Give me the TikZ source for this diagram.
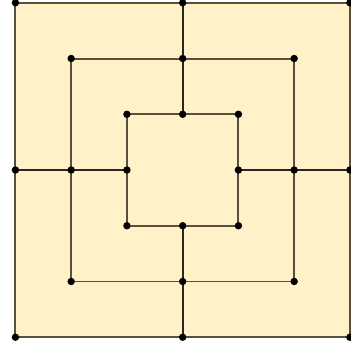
\documentclass[tikz,border=0pt]{standalone}
\definecolor{boardbg}{HTML}{FFF1C8}
\definecolor{squarec}{HTML}{5A4F3A}
\definecolor{crossc}{HTML}{2B2620}
\tikzset{
  board/.style={draw=squarec, line width=1pt},
  cross/.style={draw=crossc, line width=1pt},
  pt/.style={circle, fill=black, inner sep=0pt, minimum size=3.8pt},
}
\begin{document}
\begin{tikzpicture}
  \useasboundingbox (-3.277,-3.057) rectangle (3.02,3.05);
  \fill[boardbg] (-3,-3) rectangle (3,3);
  % the three squares, points numbered clockwise from the top left corner
  \foreach \s/\n in {3/o,2/m,1/i} {
    \coordinate (\n1) at (-\s,\s);
    \coordinate (\n2) at (0,\s);
    \coordinate (\n3) at (\s,\s);
    \coordinate (\n4) at (\s,0);
    \coordinate (\n5) at (\s,-\s);
    \coordinate (\n6) at (0,-\s);
    \coordinate (\n7) at (-\s,-\s);
    \coordinate (\n8) at (-\s,0);
    \draw[board] (\n1) -- (\n3) -- (\n5) -- (\n7) -- cycle;
  }
  % cross lines
  \foreach \k in {2,4,6,8}
    \draw[cross] (o\k) -- (i\k);
  % points
  \foreach \n in {o,m,i}
    \foreach \k in {1,...,8}
      \node[pt] (p\n\k) at (\n\k) {};
\end{tikzpicture}
\end{document}
